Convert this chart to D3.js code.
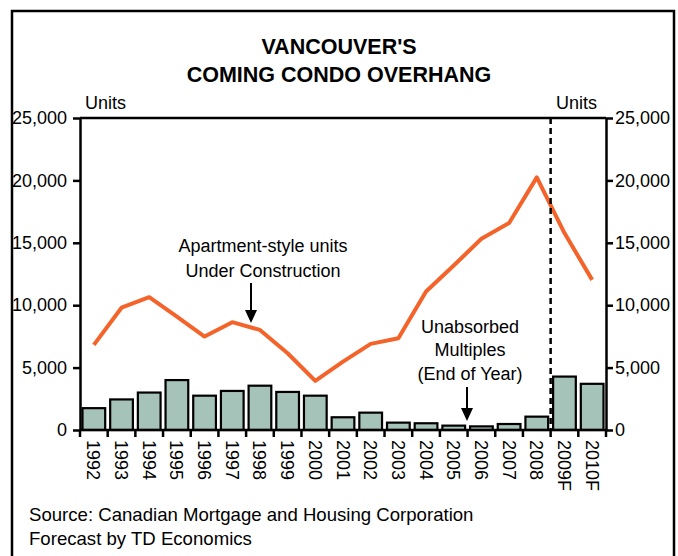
<!DOCTYPE html>
<meta charset="utf-8">
<head>
    <title>Vancouver's Coming Condo Overhang</title>
    <script src="https://cdn.jsdelivr.net/npm/d3@7"></script>
    <style>
        body { margin: 0; background: white; }
        text { font-family: Arial, "Liberation Sans", sans-serif; }
    </style>
</head>
<body>
    <script>
        // chart data
        const years = ["1992","1993","1994","1995","1996","1997","1998","1999","2000",
                       "2001","2002","2003","2004","2005","2006","2007","2008","2009F","2010F"]
        const unabsorbed = [1750, 2450, 3000, 4000, 2750, 3130, 3550, 3050, 2750,
                            1020, 1390, 590, 540, 350, 290, 480, 1070, 4280, 3700]
        const underConstruction = [6820, 9800, 10640, 9090, 7490, 8640, 8020, 6150, 3930,
                                   5480, 6900, 7350, 11100, 13180, 15320, 16580, 20240, 15780, 12030]
        const yTicks = [0, 5000, 10000, 15000, 20000, 25000]

        const w = 678, h = 556
        const plot = {left: 80, right: 606, top: 118, bottom: 430}
        const fs = 18

        let svg = d3.select("body").append("svg")
            .attr("width", w)
            .attr("height", h)

        // outer frame
        svg.append("rect")
            .attr("x", 12).attr("y", 11)
            .attr("width", 662).attr("height", 560)
            .attr("fill", "none")
            .attr("stroke", "black")
            .attr("stroke-width", 2.5)

        // title
        svg.append("text")
            .attr("x", 339).attr("y", 54)
            .attr("text-anchor", "middle")
            .attr("font-weight", "bold")
            .attr("font-size", 21.5)
            .text("VANCOUVER'S")
        svg.append("text")
            .attr("x", 339).attr("y", 82)
            .attr("text-anchor", "middle")
            .attr("font-weight", "bold")
            .attr("font-size", 21.5)
            .text("COMING CONDO OVERHANG")

        // scales
        let x = d3.scaleBand().domain(years)
            .range([plot.left, plot.right])
            .paddingInner(0.18).paddingOuter(0.09)
        let xEdge = d3.scaleBand().domain(years).range([plot.left, plot.right])
        let y = d3.scaleLinear().domain([0, 25000]).range([plot.bottom, plot.top])

        // bars
        svg.append("g").selectAll("rect")
            .data(unabsorbed)
            .enter()
            .append("rect")
            .attr("x", (d, i) => x(years[i]))
            .attr("y", d => y(d))
            .attr("width", x.bandwidth())
            .attr("height", d => y(0) - y(d))
            .attr("fill", "#a6c3b9")
            .attr("stroke", "black")
            .attr("stroke-width", 2.2)

        // line
        let line = d3.line()
            .x((d, i) => x(years[i]) + x.bandwidth() / 2)
            .y(d => y(d))
        svg.append("path")
            .datum(underConstruction)
            .attr("d", line)
            .attr("fill", "none")
            .attr("stroke", "#f4632a")
            .attr("stroke-width", 4)
            .attr("stroke-linejoin", "round")

        // forecast divider
        svg.append("line")
            .attr("x1", xEdge("2009F")).attr("x2", xEdge("2009F"))
            .attr("y1", plot.top).attr("y2", plot.bottom)
            .attr("stroke", "black")
            .attr("stroke-width", 2.5)
            .attr("stroke-dasharray", "6,4")

        // top border of plot
        svg.append("line")
            .attr("x1", plot.left).attr("x2", plot.right)
            .attr("y1", plot.top).attr("y2", plot.top)
            .attr("stroke", "black").attr("stroke-width", 2.5)

        // axes
        const fmt = d3.format(",")
        let leftAxis = svg.append("g")
            .attr("transform", "translate(" + plot.left + ",0)")
            .call(d3.axisLeft(y).tickValues(yTicks).tickFormat(fmt).tickSize(7).tickSizeOuter(0))
        let rightAxis = svg.append("g")
            .attr("transform", "translate(" + plot.right + ",0)")
            .call(d3.axisRight(y).tickValues(yTicks).tickFormat(fmt).tickSize(7).tickSizeOuter(0))
        svg.selectAll(".domain, .tick line")
            .attr("stroke", "black").attr("stroke-width", 2.5)
        svg.selectAll(".tick text")
            .attr("font-size", fs).attr("fill", "black")
            .attr("font-family", "Arial, 'Liberation Sans', sans-serif")
        leftAxis.selectAll(".tick text").attr("x", -13)
        rightAxis.selectAll(".tick text").attr("x", 9)

        // x axis
        let xAxis = svg.append("g")
        xAxis.append("line")
            .attr("x1", plot.left).attr("x2", plot.right)
            .attr("y1", plot.bottom).attr("y2", plot.bottom)
            .attr("stroke", "black").attr("stroke-width", 2.5)
        xAxis.selectAll(".xtick")
            .data(years.concat(["end"]))
            .enter()
            .append("line")
            .attr("class", "xtick")
            .attr("x1", d => d == "end" ? plot.right : xEdge(d))
            .attr("x2", d => d == "end" ? plot.right : xEdge(d))
            .attr("y1", plot.bottom).attr("y2", plot.bottom + 7)
            .attr("stroke", "black").attr("stroke-width", 2.5)
        xAxis.selectAll(".xlabel")
            .data(years)
            .enter()
            .append("text")
            .attr("class", "xlabel")
            .attr("transform", d => "translate(" + (x(d) + x.bandwidth() / 2 - 6.5) + "," + (plot.bottom + 10) + ") rotate(90)")
            .attr("font-size", fs)
            .text(d => d)

        // unit labels
        svg.append("text").attr("x", 85).attr("y", 109).attr("font-size", fs).text("Units")
        svg.append("text").attr("x", 556).attr("y", 109).attr("font-size", fs).text("Units")

        // annotations
        svg.append("text").attr("x", 263).attr("y", 252).attr("text-anchor", "middle")
            .attr("font-size", fs).text("Apartment-style units")
        svg.append("text").attr("x", 263).attr("y", 277).attr("text-anchor", "middle")
            .attr("font-size", fs).text("Under Construction")
        svg.append("line").attr("x1", 251).attr("x2", 251).attr("y1", 283).attr("y2", 312)
            .attr("stroke", "black").attr("stroke-width", 2)
        svg.append("path").attr("d", "M245,310 L257,310 L251,323 Z").attr("fill", "black")

        svg.append("text").attr("x", 470).attr("y", 333).attr("text-anchor", "middle")
            .attr("font-size", fs).text("Unabsorbed")
        svg.append("text").attr("x", 470).attr("y", 356).attr("text-anchor", "middle")
            .attr("font-size", fs).text("Multiples")
        svg.append("text").attr("x", 470).attr("y", 380).attr("text-anchor", "middle")
            .attr("font-size", fs).text("(End of Year)")
        svg.append("line").attr("x1", 467).attr("x2", 467).attr("y1", 387).attr("y2", 410)
            .attr("stroke", "black").attr("stroke-width", 2)
        svg.append("path").attr("d", "M461,408 L473,408 L467,421 Z").attr("fill", "black")

        // source
        svg.append("text").attr("x", 29).attr("y", 521).attr("font-size", 18.6)
            .text("Source: Canadian Mortgage and Housing Corporation")
        svg.append("text").attr("x", 29).attr("y", 545).attr("font-size", 18.6)
            .text("Forecast by TD Economics")
    </script>
</body>
</html>
